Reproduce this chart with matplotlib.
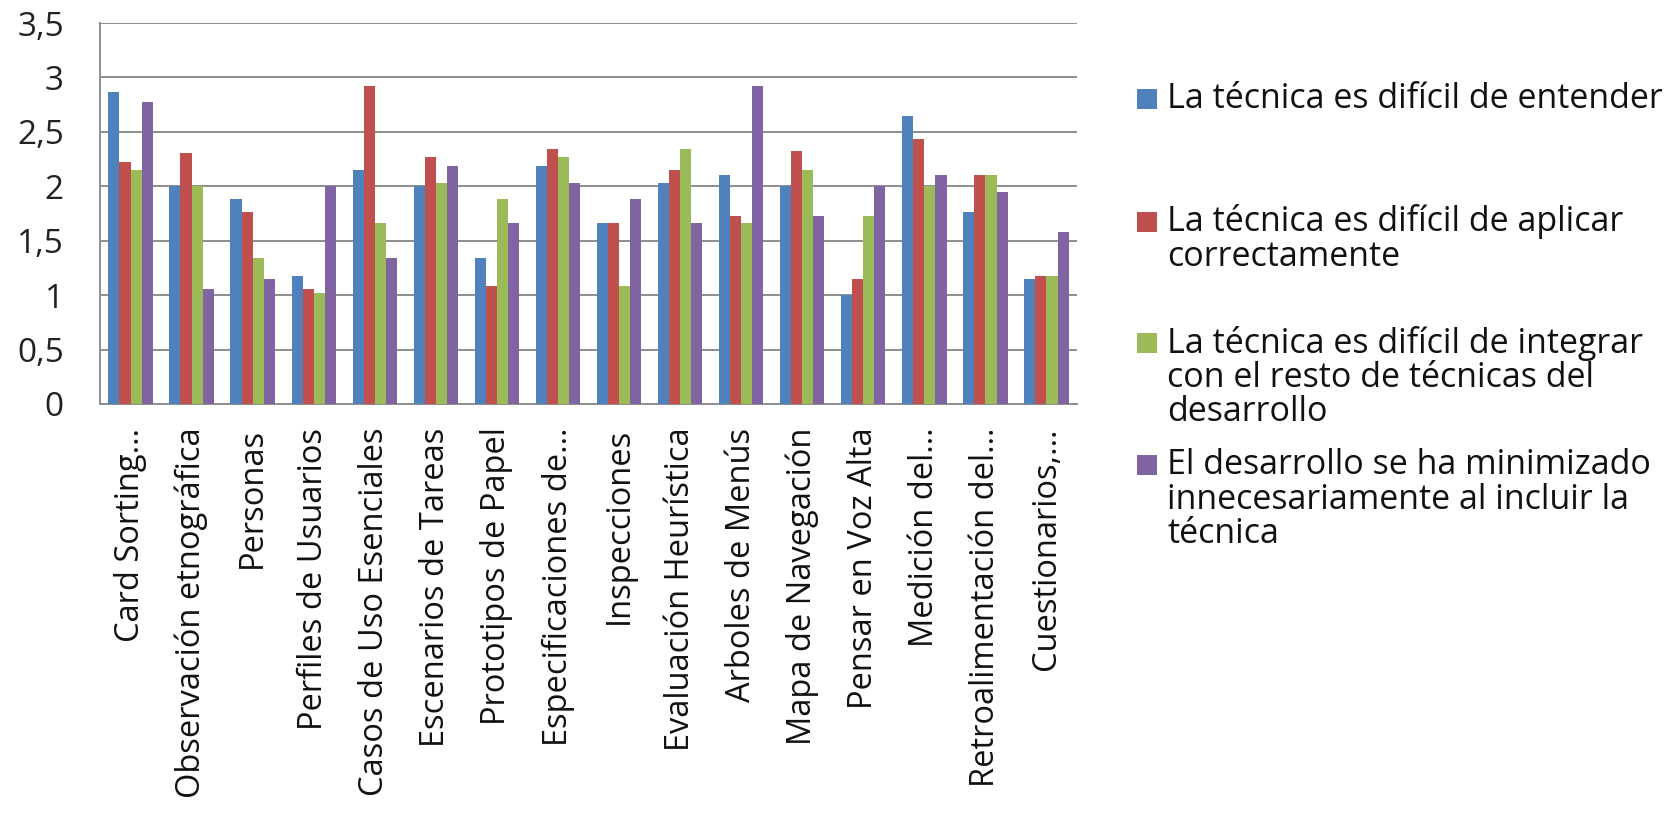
import matplotlib
matplotlib.use("Agg")
import matplotlib.pyplot as plt
import numpy as np
from matplotlib.patches import Rectangle

plt.rcParams['font.family'] = ['Open Sans', 'DejaVu Sans']

# técnicas evaluadas (etiquetas tal como salen truncadas en el eje)
tecnicas = [
    "Card Sorting…", "Observación etnográfica", "Personas", "Perfiles de Usuarios",
    "Casos de Uso Esenciales", "Escenarios de Tareas", "Prototipos de Papel",
    "Especificaciones de…", "Inspecciones", "Evaluación Heurística",
    "Arboles de Menús", "Mapa de Navegación", "Pensar en Voz Alta",
    "Medición del…", "Retroalimentación del…", "Cuestionarios,…",
]

entender = [2.87, 2.00, 1.88, 1.18, 2.15, 2.00, 1.34, 2.19, 1.66, 2.03, 2.10, 2.00, 1.00, 2.65, 1.76, 1.15]
aplicar = [2.22, 2.31, 1.76, 1.06, 2.92, 2.27, 1.08, 2.34, 1.66, 2.15, 1.73, 2.32, 1.15, 2.43, 2.10, 1.18]
integrar = [2.15, 2.00, 1.34, 1.02, 1.66, 2.03, 1.88, 2.27, 1.08, 2.34, 1.66, 2.15, 1.73, 2.00, 2.10, 1.18]
minimizado = [2.77, 1.06, 1.15, 2.00, 1.34, 2.19, 1.66, 2.03, 1.88, 1.66, 2.92, 1.73, 2.00, 2.10, 1.95, 1.58]

series_labels = [
    ["La técnica es difícil de entender"],
    ["La técnica es difícil de aplicar", "correctamente"],
    ["La técnica es difícil de integrar", "con el resto de técnicas del", "desarrollo"],
    ["El desarrollo se ha minimizado", "innecesariamente al incluir la", "técnica"],
]
colores = ["#4F81BD", "#C0504D", "#9BBB59", "#8064A2"]

W, H = 1671, 819
fig = plt.figure(figsize=(W / 100, H / 100), dpi=100)
ax = fig.add_axes([100 / W, 1 - 404 / H, 977 / W, 381 / H])

x = np.arange(len(tecnicas))
ancho = 1 / 5.5
for i, vals in enumerate([entender, aplicar, integrar, minimizado]):
    ax.bar(x + (i - 1.5) * ancho, vals, ancho, color=colores[i], zorder=3)

ax.set_xlim(-0.5, len(tecnicas) - 0.5)
ax.set_ylim(0, 3.5)
yt = np.arange(0, 3.51, 0.5)
ax.set_yticks(yt)
ax.set_yticklabels([f"{v:g}".replace(".", ",") for v in yt], fontsize=24, color="#222222")
ax.set_xticks(x)
ax.set_xticklabels(tecnicas, rotation=90, fontsize=23.5, color="#111111")
ax.tick_params(axis="x", length=0, pad=17)
ax.tick_params(axis="y", length=0, pad=26)

ax.grid(axis="y", color="#8e8e8e", linewidth=1.4, zorder=0)
for s in ["top", "right"]:
    ax.spines[s].set_visible(False)
for s in ["left", "bottom"]:
    ax.spines[s].set_color("#8e8e8e")
    ax.spines[s].set_linewidth(1.4)

# leyenda a la derecha, con las entradas repartidas en vertical
y_entrada = [99, 222, 343, 465]
paso = 34.7
for color, lineas, y0 in zip(colores, series_labels, y_entrada):
    fig.patches.append(Rectangle((1137 / W, 1 - (y0 + 10) / H), 20 / W, 20 / H,
                                 transform=fig.transFigure, facecolor=color,
                                 edgecolor="none"))
    for k, txt in enumerate(lineas):
        fig.text(1167 / W, 1 - (y0 + k * paso) / H, txt, fontsize=24.5,
                 color="#111111", va="center", ha="left")

fig.savefig("out.png", dpi=100)
